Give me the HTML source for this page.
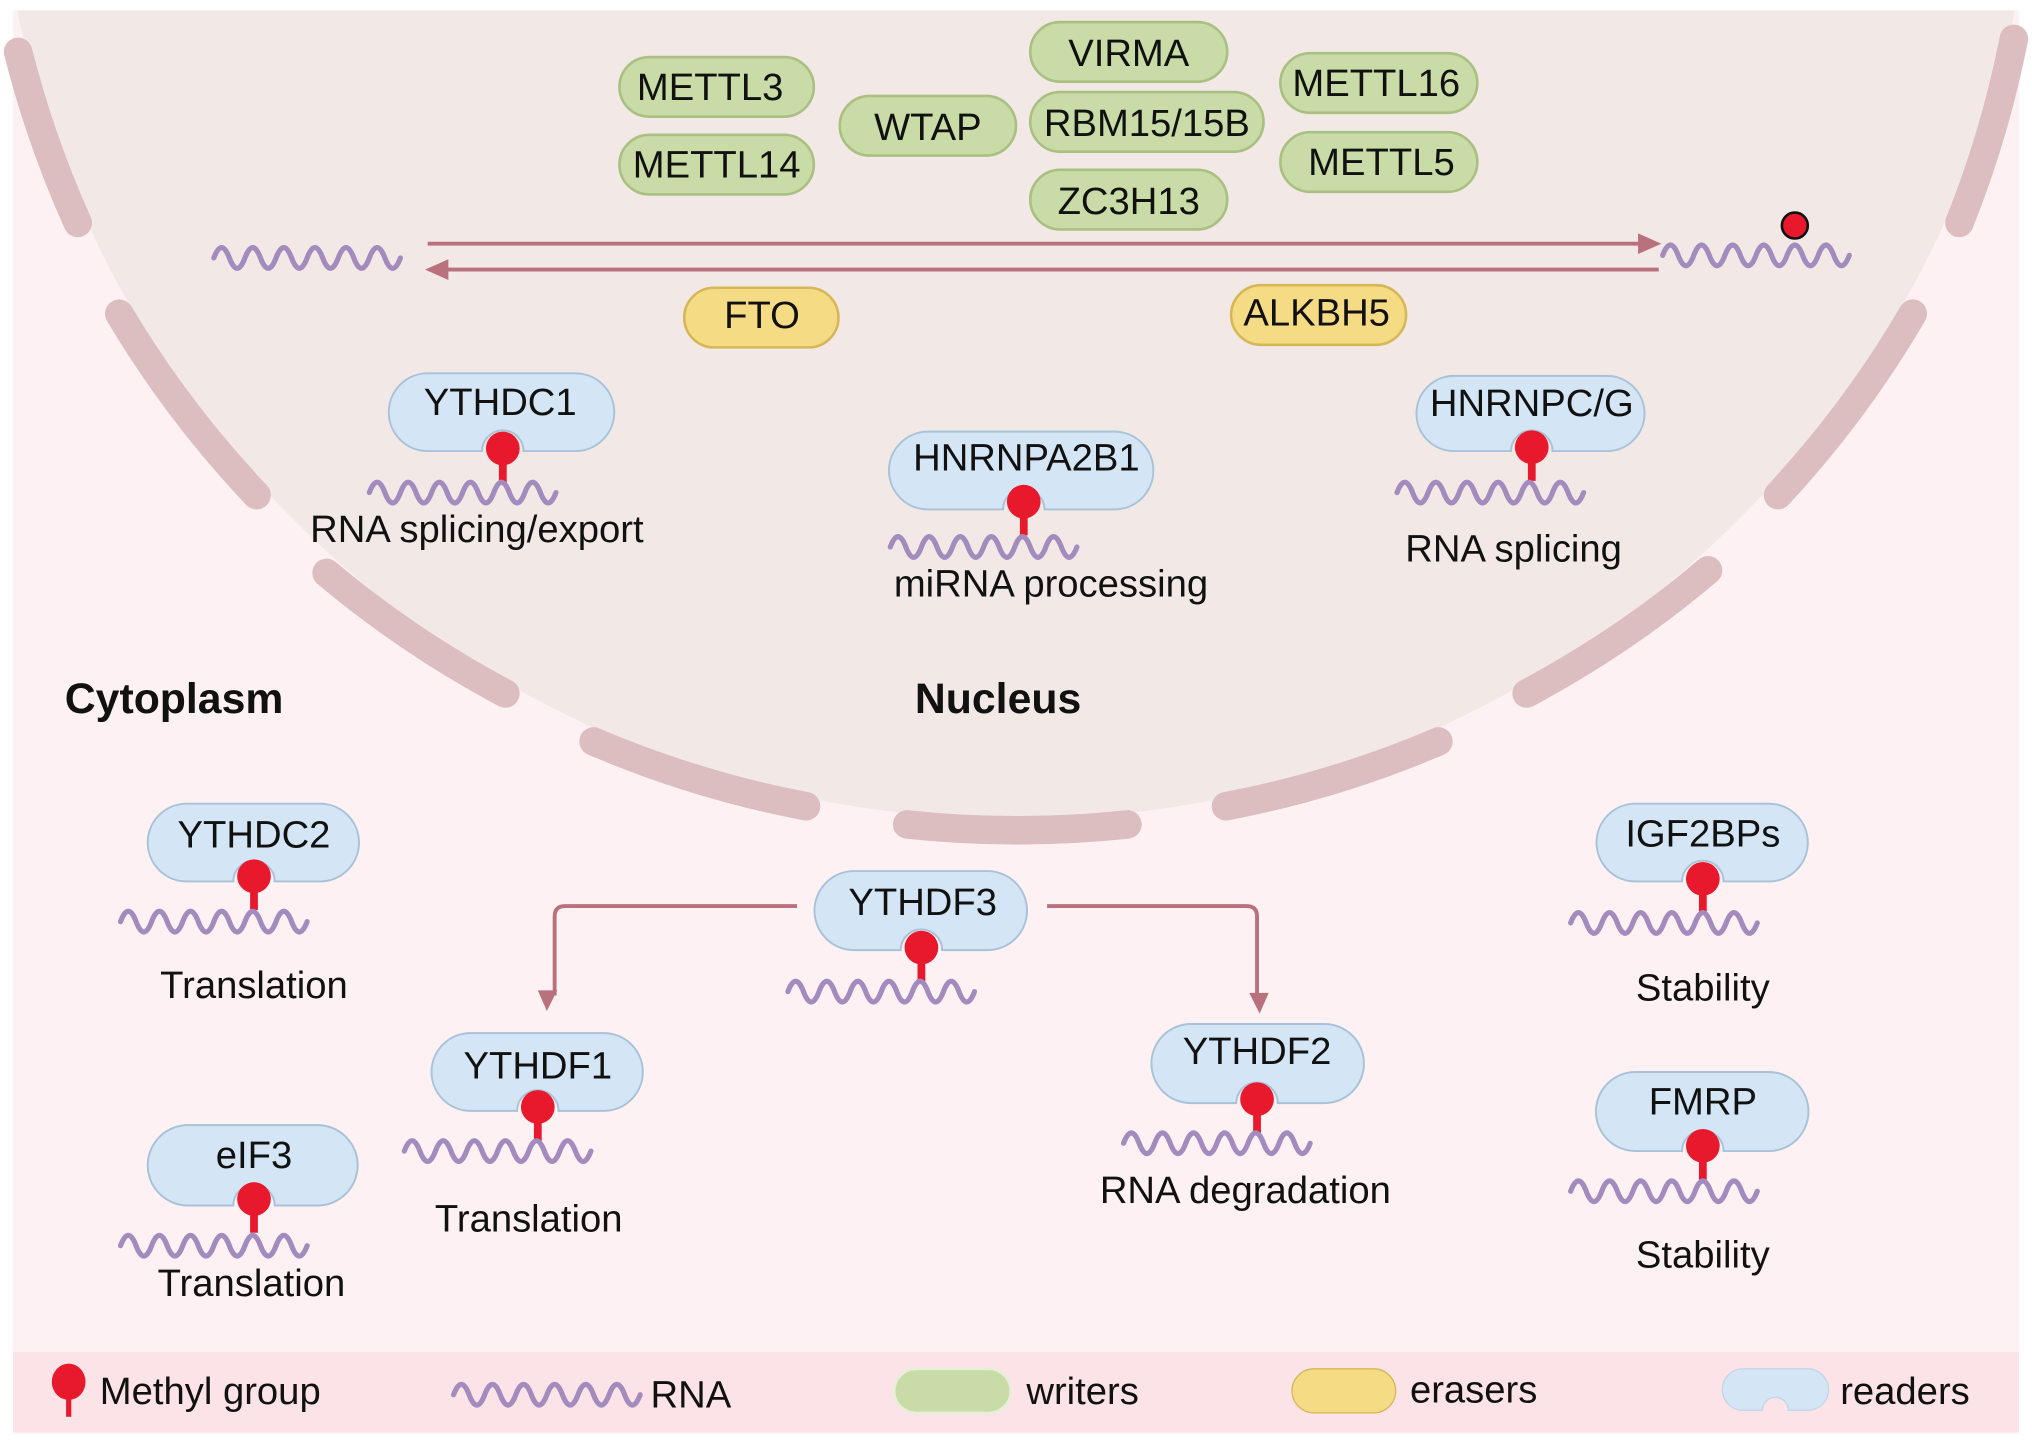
<!DOCTYPE html>
<html><head><meta charset="utf-8"><style>
html,body{margin:0;padding:0;background:#fff}
svg{display:block}
text{font-family:"Liberation Sans",Arial,sans-serif;fill:#111}
</style></head><body>
<svg width="2032" height="1444" viewBox="0 0 1568 1114" preserveAspectRatio="none" xmlns="http://www.w3.org/2000/svg">
<defs>
<path id="w" d="M0 -8 q6 -16 12 0 t12 0 t12 0 t12 0 t12 0 t12 0 t12 0 t12 0 t12 0 t12 0 t12 0 t12 0" fill="none" stroke="#a48bbd" stroke-width="4" stroke-linecap="round"/>
<g id="pin"><rect x="-3" y="0" width="6" height="26" fill="#e8192c"/><circle cx="0" cy="0" r="13" fill="#e8192c"/></g>
</defs>
<rect x="0" y="0" width="1568" height="1114" fill="#fff"/>
<rect x="10" y="8" width="1548" height="1098" fill="#fdf1f3"/>
<circle cx="784" cy="-156" r="788" fill="#f2e9e6"/>
<rect x="0" y="0" width="1568" height="8" fill="#fff"/>
<rect x="10" y="1043" width="1548" height="62" fill="#fbe3e7"/>
<g fill="none" stroke="#dcbdc0" stroke-width="22" stroke-linecap="round">
<path d="M14 40 A796 796 0 0 0 60 172"/>
<path d="M92 242 A796 796 0 0 0 198 382"/>
<path d="M252 442 A796 796 0 0 0 390 535"/>
<path d="M458 572 A796 796 0 0 0 622 622"/>
<path d="M700 636 A796 796 0 0 0 870 636"/>
<path d="M946 622 A796 796 0 0 0 1110 572"/>
<path d="M1178 535 A796 796 0 0 0 1318 440"/>
<path d="M1372 382 A796 796 0 0 0 1476 242"/>
<path d="M1512 172 A796 796 0 0 0 1554 30"/>
</g>
<!-- writers -->
<g fill="#c9dba6" stroke="#a9c082" stroke-width="2">
<rect x="478" y="44" width="150" height="46" rx="23"/>
<rect x="478" y="104" width="150" height="46" rx="23"/>
<rect x="648" y="74" width="136" height="46" rx="23"/>
<rect x="795" y="17" width="152" height="46" rx="23"/>
<rect x="795" y="71" width="180" height="46" rx="23"/>
<rect x="795" y="131" width="152" height="46" rx="23"/>
<rect x="988" y="41" width="152" height="46" rx="23"/>
<rect x="988" y="102" width="152" height="46" rx="23"/>
</g>
<g font-size="29.5" text-anchor="middle">
<text x="548" y="77">METTL3</text>
<text x="553" y="137">METTL14</text>
<text x="716" y="108">WTAP</text>
<text x="871" y="51">VIRMA</text>
<text x="885" y="105">RBM15/15B</text>
<text x="871" y="165">ZC3H13</text>
<text x="1062" y="74">METTL16</text>
<text x="1066" y="135">METTL5</text>
</g>
<g fill="#f5dc84" stroke="#d6b758" stroke-width="2">
<rect x="528" y="222" width="119" height="46" rx="23"/>
<rect x="950" y="220" width="135" height="46" rx="23"/>
</g>
<g font-size="29.5" text-anchor="middle">
<text x="588" y="253">FTO</text>
<text x="1016" y="251">ALKBH5</text>
</g>
<!-- arrows -->
<g stroke="#b9717d" stroke-width="3" fill="none">
<line x1="330" y1="188" x2="1268" y2="188"/>
<line x1="342" y1="208" x2="1280" y2="208"/>
<path d="M615 699 H436 Q428 699 428 707 V768"/>
<path d="M808 699 H962 Q970 699 970 707 V770"/>
</g>
<g fill="#b9717d">
<polygon points="1282,188 1264,180 1264,196"/>
<polygon points="328,208 346,200 346,216"/>
<polygon points="422,780 415,764 430,764"/>
<polygon points="972,782 964,766 979,766"/>
</g>
<use href="#w" x="165" y="207"/>
<use href="#w" x="1283" y="205"/>
<circle cx="1385" cy="174" r="10" fill="#e8192c" stroke="#111" stroke-width="2"/>
<!-- readers -->
<g fill="#d4e6f5" stroke="#a9c2d8" stroke-width="1.5">
<path d="M330 288 H444 A30 30 0 0 1 444 348 H404 A16 16 0 0 0 372 348 H330 A30 30 0 0 1 330 288 Z"/>
<path d="M716 333 H860 A30 30 0 0 1 860 393 H806 A16 16 0 0 0 774 393 H716 A30 30 0 0 1 716 333 Z"/>
<path d="M1122 290 H1240 A29 29 0 0 1 1240 348 H1198 A16 16 0 0 0 1166 348 H1122 A29 29 0 0 1 1122 290 Z"/>
<path d="M144 620 H247 A30 30 0 0 1 247 680 H212 A16 16 0 0 0 180 680 H144 A30 30 0 0 1 144 620 Z"/>
<path d="M145 868 H245 A31 31 0 0 1 245 930 H212 A16 16 0 0 0 180 930 H145 A31 31 0 0 1 145 868 Z"/>
<path d="M363 797 H466 A30 30 0 0 1 466 857 H431 A16 16 0 0 0 399 857 H363 A30 30 0 0 1 363 797 Z"/>
<path d="M659 672 H762 A30 30 0 0 1 762 733 H727 A16 16 0 0 0 695 733 H659 A30 30 0 0 1 659 672 Z"/>
<path d="M919 790 H1022 A30 30 0 0 1 1022 851 H986 A16 16 0 0 0 954 851 H919 A30 30 0 0 1 919 790 Z"/>
<path d="M1262 620 H1365 A30 30 0 0 1 1365 680 H1330 A16 16 0 0 0 1298 680 H1262 A30 30 0 0 1 1262 620 Z"/>
<path d="M1262 827 H1365 A30 30 0 0 1 1365 888 H1330 A16 16 0 0 0 1298 888 H1262 A30 30 0 0 1 1262 827 Z"/>
</g>
<use href="#pin" x="388" y="346"/><use href="#w" x="285" y="388"/>
<use href="#pin" x="790" y="387"/><use href="#w" x="687" y="430"/>
<use href="#pin" x="1182" y="345"/><use href="#w" x="1078" y="388"/>
<use href="#pin" x="196" y="676"/><use href="#w" x="93" y="719"/>
<use href="#pin" x="196" y="925"/><use href="#w" x="93" y="969"/>
<use href="#pin" x="415" y="854"/><use href="#w" x="312" y="896"/>
<use href="#pin" x="711" y="731"/><use href="#w" x="608" y="773"/>
<use href="#pin" x="970" y="848"/><use href="#w" x="867" y="890"/>
<use href="#pin" x="1314" y="678"/><use href="#w" x="1212" y="720"/>
<use href="#pin" x="1314" y="884"/><use href="#w" x="1212" y="927"/>
<g font-size="29.5" text-anchor="middle">
<text x="386" y="320">YTHDC1</text>
<text x="792" y="363">HNRNPA2B1</text>
<text x="1182" y="321">HNRNPC/G</text>
<text x="196" y="654">YTHDC2</text>
<text x="196" y="901">eIF3</text>
<text x="415" y="832">YTHDF1</text>
<text x="712" y="706">YTHDF3</text>
<text x="970" y="821">YTHDF2</text>
<text x="1314" y="653">IGF2BPs</text>
<text x="1314" y="860">FMRP</text>
<text x="368" y="418">RNA splicing/export</text>
<text x="811" y="460">miRNA processing</text>
<text x="1168" y="433">RNA splicing</text>
<text x="196" y="770">Translation</text>
<text x="194" y="1000">Translation</text>
<text x="408" y="950">Translation</text>
<text x="961" y="928">RNA degradation</text>
<text x="1314" y="772">Stability</text>
<text x="1314" y="978">Stability</text>
</g>
<g font-size="33" font-weight="bold">
<text x="50" y="550">Cytoplasm</text>
<text x="706" y="550">Nucleus</text>
</g>
<!-- legend -->
<rect x="51" y="1065" width="4" height="28" fill="#e8192c"/>
<ellipse cx="53" cy="1066" rx="13" ry="14" fill="#e8192c"/>
<use href="#w" x="350" y="1084"/>
<rect x="690" y="1056" width="90" height="34" rx="17" fill="#c9dba6" stroke="#e8efd8" stroke-width="2"/>
<rect x="997" y="1056" width="80" height="34" rx="17" fill="#f5dc84" stroke="#d6b758" stroke-width="1"/>
<path d="M1345 1056 H1395 A15 15 0 0 1 1395 1088 H1380 A10 10 0 0 0 1360 1088 H1345 A15 15 0 0 1 1345 1056 Z" fill="#d4e6f5" stroke="#c2d6e8" stroke-width="1"/>
<g font-size="29.5">
<text x="77" y="1083">Methyl group</text>
<text x="502" y="1086">RNA</text>
<text x="792" y="1083">writers</text>
<text x="1088" y="1082">erasers</text>
<text x="1420" y="1083">readers</text>
</g>
</svg>
</body></html>
